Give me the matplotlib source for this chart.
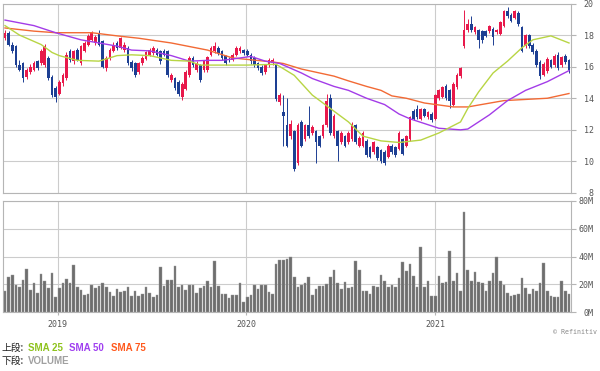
import numpy as np
import pandas as pd
import matplotlib
matplotlib.use("Agg")
import matplotlib.pyplot as plt
import matplotlib.dates as mdates

# weekly bars, 2018-09-21 .. 2021-09-10
dates = pd.date_range("2018-09-21", periods=157, freq="7D")

opens = [17.82, 18.14, 17.40, 17.29, 16.11, 16.22, 15.36, 15.68, 15.79, 16.33,
         16.22, 16.11, 16.54, 15.36, 14.62, 14.30, 14.94, 15.26, 16.97, 16.33,
         17.07, 16.22, 16.97, 17.40, 17.71, 17.50, 18.14, 17.60, 15.90, 16.54,
         16.97, 17.50, 17.18, 17.07, 17.18, 16.30, 16.22, 15.68, 16.22, 16.50,
         16.75, 16.86, 17.07, 16.97, 16.97, 16.97, 15.15, 15.26, 15.04, 14.08,
         14.60, 15.47, 16.54, 15.79, 16.11, 15.79, 15.79, 16.75, 16.97, 17.18,
         16.97, 16.65, 16.50, 16.45, 16.75, 16.97, 17.07, 17.00, 16.75, 16.54,
         16.22, 16.00, 15.68, 16.11, 16.22, 16.11, 13.76, 13.10, 12.30, 11.60,
         11.90, 9.90, 12.50, 11.40, 12.30, 11.80, 11.90, 11.60, 11.60, 12.30,
         14.00, 11.60, 11.90, 11.20, 11.60, 11.20, 11.40, 12.30, 11.00, 11.00,
         11.30, 10.90, 10.60, 10.90, 10.70, 10.60, 10.30, 11.00, 10.90, 10.80,
         11.40, 11.00, 11.40, 13.20, 13.30, 12.70, 13.30, 12.80, 13.00, 12.70,
         14.00, 14.10, 14.80, 14.50, 13.60, 14.70, 15.40, 17.30, 18.30, 18.70,
         18.20, 18.30, 18.25, 18.25, 18.25, 18.40, 18.20, 18.10, 18.60, 19.50,
         19.30, 19.10, 19.40, 18.50, 17.30, 18.00, 17.40, 17.00, 16.30, 15.50,
         15.70, 16.40, 16.10, 16.75, 16.10, 16.70, 16.40]
closes = [18.14, 17.40, 16.97, 16.11, 15.79, 15.26, 15.79, 16.00, 16.22, 15.90,
          16.97, 17.29, 15.26, 14.19, 14.08, 15.04, 15.47, 16.75, 16.43, 16.97,
          16.43, 17.29, 17.50, 17.93, 18.14, 17.90, 17.40, 16.00, 16.54, 17.07,
          17.40, 17.18, 17.82, 17.40, 16.22, 15.90, 15.47, 16.22, 16.54, 16.90,
          17.07, 17.18, 16.75, 16.33, 16.75, 15.47, 15.47, 14.62, 14.30, 14.90,
          15.68, 16.54, 16.11, 16.22, 15.15, 16.33, 16.60, 17.18, 17.29, 16.86,
          16.54, 16.22, 16.40, 16.75, 17.18, 17.18, 16.86, 16.75, 16.33, 16.11,
          15.90, 15.60, 16.11, 16.43, 16.43, 13.97, 14.19, 12.90, 11.00, 12.40,
          9.50, 12.30, 11.00, 12.30, 11.60, 12.20, 11.20, 11.00, 12.30, 13.80,
          11.80, 12.90, 11.00, 11.80, 11.00, 11.80, 12.40, 11.20, 11.50, 11.80,
          10.40, 10.30, 11.20, 10.20, 10.00, 9.90, 11.00, 10.60, 10.40, 11.80,
          10.50, 11.60, 12.80, 12.70, 12.80, 13.30, 12.90, 13.10, 12.60, 14.20,
          14.50, 14.70, 14.00, 13.80, 14.90, 15.50, 15.90, 18.30, 18.70, 18.30,
          18.50, 17.70, 17.70, 17.95, 18.55, 17.90, 18.30, 18.80, 19.50, 19.20,
          18.90, 19.50, 18.70, 17.00, 18.00, 17.30, 16.90, 16.10, 15.40, 16.20,
          16.50, 16.00, 16.70, 15.90, 16.60, 16.30, 15.80]
highs = [18.35, 18.25, 17.55, 17.40, 16.40, 16.30, 15.90, 16.15, 16.35, 16.45,
         17.10, 17.45, 16.70, 15.45, 14.75, 15.15, 15.60, 16.90, 17.10, 17.05,
         17.20, 17.40, 17.65, 18.05, 18.25, 18.00, 18.35, 17.70, 16.65, 17.20,
         17.55, 17.60, 17.90, 17.55, 17.30, 16.40, 16.30, 16.30, 16.65, 17.00,
         17.20, 17.30, 17.20, 17.05, 17.10, 17.05, 15.60, 15.35, 15.15, 15.00,
         15.80, 16.65, 16.65, 16.35, 16.20, 16.45, 16.70, 17.30, 17.55, 17.30,
         17.05, 16.75, 16.60, 16.85, 17.30, 17.30, 17.15, 17.10, 16.85, 16.65,
         16.30, 16.10, 16.20, 16.55, 16.55, 16.20, 14.35, 14.20, 14.00, 12.60,
         12.00, 12.45, 12.60, 12.40, 13.50, 12.30, 12.00, 11.70, 12.40, 14.30,
         14.30, 13.00, 12.00, 11.90, 11.70, 11.90, 12.50, 12.40, 11.60, 11.90,
         11.40, 11.00, 11.30, 11.00, 10.80, 10.70, 11.10, 11.10, 11.00, 11.90,
         11.50, 11.70, 12.90, 13.30, 13.60, 13.40, 13.40, 13.20, 13.10, 14.30,
         14.60, 14.80, 14.90, 14.60, 15.00, 15.60, 16.00, 19.60, 19.00, 19.20,
         18.60, 18.40, 18.35, 18.35, 18.65, 18.50, 18.40, 18.90, 19.60, 19.80,
         19.40, 19.60, 19.50, 18.60, 18.10, 18.10, 17.50, 17.10, 16.40, 16.30,
         16.60, 16.50, 16.80, 16.90, 16.70, 16.80, 16.50]
lows = [17.70, 17.30, 16.85, 16.00, 15.70, 15.00, 15.20, 15.55, 15.70, 15.80,
        16.10, 16.00, 15.15, 14.05, 13.76, 14.20, 14.80, 15.15, 16.30, 16.20,
        16.35, 16.10, 16.90, 17.30, 17.60, 17.40, 17.30, 15.90, 15.75, 16.45,
        16.90, 17.05, 17.10, 16.95, 16.10, 15.75, 15.35, 15.55, 16.10, 16.40,
        16.65, 16.75, 16.65, 16.20, 16.65, 15.35, 15.00, 14.50, 14.15, 13.90,
        14.50, 15.35, 16.00, 15.65, 15.05, 15.65, 15.65, 16.65, 16.85, 16.75,
        16.45, 16.10, 16.30, 16.35, 16.65, 16.85, 16.75, 16.65, 16.20, 16.00,
        15.80, 15.45, 15.55, 16.00, 16.10, 13.85, 13.60, 11.00, 10.90, 11.40,
        9.40, 9.80, 10.90, 11.30, 11.50, 11.70, 9.90, 10.90, 11.50, 12.20,
        11.70, 11.50, 10.00, 11.10, 10.90, 11.10, 11.30, 11.10, 10.90, 10.90,
        10.30, 10.20, 10.50, 10.10, 9.90, 9.75, 10.20, 10.50, 10.30, 10.70,
        10.40, 10.90, 11.30, 12.60, 12.70, 12.60, 12.80, 12.70, 12.50, 12.60,
        13.90, 14.00, 13.90, 13.40, 13.50, 14.60, 15.30, 17.20, 18.20, 18.20,
        18.10, 17.20, 17.50, 17.85, 18.15, 17.40, 18.10, 18.00, 18.50, 19.10,
        18.80, 19.00, 18.60, 16.90, 17.20, 17.20, 16.80, 16.00, 15.20, 15.40,
        15.60, 15.90, 16.00, 15.80, 16.00, 16.20, 15.60]
# volume in millions
volume = [15.4, 25.0, 26.5, 19.3, 18.0, 23.0, 31.3, 16.0, 20.7, 13.7,
          27.5, 22.0, 17.3, 28.0, 11.0, 17.3, 20.7, 24.0, 20.7, 34.0,
          17.8, 16.0, 12.5, 13.0, 19.3, 17.3, 18.8, 20.7, 18.3, 14.5,
          11.8, 16.6, 14.2, 15.4, 18.3, 11.8, 15.4, 11.8, 13.0, 18.3,
          13.7, 10.6, 12.5, 32.3, 18.6, 23.0, 23.0, 33.5, 17.8, 19.8,
          16.0, 19.8, 19.8, 14.0, 17.3, 18.8, 22.0, 17.8, 37.0, 18.8,
          13.0, 13.0, 10.0, 12.5, 12.5, 20.7, 7.0, 10.6, 12.5, 19.8,
          16.6, 19.8, 19.8, 14.2, 13.0, 34.7, 37.8, 37.3, 38.0, 40.0,
          25.0, 17.8, 19.8, 21.2, 25.5, 12.5, 16.6, 19.0, 18.6, 20.2,
          25.0, 30.6, 20.7, 16.6, 21.4, 17.3, 17.8, 36.6, 30.6, 15.4,
          15.4, 13.0, 19.0, 18.0, 27.0, 22.7, 17.8, 19.3, 18.0, 24.6,
          36.0, 29.4, 34.7, 25.8, 18.0, 46.7, 17.8, 22.7, 11.3, 11.6,
          25.8, 20.7, 21.4, 43.9, 22.0, 28.0, 15.0, 72.3, 30.0, 22.7,
          28.7, 21.4, 20.7, 15.4, 22.0, 28.0, 40.0, 22.0, 19.3, 13.7,
          11.3, 12.5, 13.0, 24.6, 17.3, 13.0, 16.6, 15.4, 20.7, 35.0,
          15.0, 11.8, 11.0, 10.6, 22.0, 15.0, 13.0]

# moving averages at these bar numbers (0-based)
sma25_wk = [0, 4, 10, 13, 15, 20, 26, 31, 35, 40, 46, 51, 54, 67, 75, 80, 85,
            90, 95, 99, 104, 109, 115, 120, 126, 128, 131, 135, 139, 143, 146, 151, 156]
sma25 = [18.6, 18.0, 17.4, 16.9, 16.7, 16.4, 16.35, 16.7, 16.75, 16.7, 16.4, 16.35,
         16.1, 16.1, 16.15, 15.45, 14.2, 13.35, 12.5, 11.6, 11.3, 11.2, 11.35, 11.8,
         12.5, 13.35, 14.4, 15.6, 16.35, 17.2, 17.7, 17.95, 17.5]
sma50_wk = [0, 8, 14, 21, 26, 31, 35, 40, 46, 51, 56, 60, 65, 68, 72, 76, 82, 85,
            91, 95, 100, 105, 109, 112, 116, 120, 126, 128, 134, 139, 144, 150, 156]
sma50 = [18.95, 18.6, 18.15, 17.7, 17.5, 17.3, 17.05, 17.0, 16.7, 16.35, 16.4, 16.4,
         16.55, 16.65, 16.35, 16.2, 15.6, 15.25, 14.75, 14.5, 14.0, 13.6, 13.0, 12.7,
         12.4, 12.1, 12.0, 12.05, 12.95, 13.85, 14.5, 15.05, 15.75]
sma75_wk = [0, 8, 14, 24, 31, 37, 46, 56, 63, 74, 77, 82, 85, 91, 95, 100, 104,
            107, 111, 116, 124, 128, 138, 150, 156]
sma75 = [18.45, 18.25, 18.15, 18.15, 17.95, 17.8, 17.5, 17.05, 16.55, 16.3, 16.2,
         15.85, 15.7, 15.4, 15.1, 14.75, 14.5, 14.15, 14.0, 13.7, 13.45, 13.45,
         13.85, 14.0, 14.3]

UP = "#e8194b"
DOWN = "#1d3f93"
GRID = "#cccccc"
TICK = "#555555"

x = mdates.date2num(dates)
o = np.array(opens)
c = np.array(closes)
cols = np.where(c >= o, UP, DOWN)

fig = plt.figure(figsize=(6, 3.71), dpi=100)
ax = fig.add_axes([3 / 600, 1 - 193 / 371, 568 / 600, 189.5 / 371])
axv = fig.add_axes([3 / 600, 1 - 312 / 371, 568 / 600, 111 / 371], sharex=ax)

# price panel
ax.vlines(x, lows, highs, colors=cols, linewidth=0.7, zorder=3)
ax.bar(x, np.abs(c - o), bottom=np.minimum(o, c), width=5.2, color=cols,
       linewidth=0, zorder=3)
ax.plot(mdates.date2num(dates[sma75_wk]), sma75, color="#f26a35", lw=1.0, zorder=4)
ax.plot(mdates.date2num(dates[sma50_wk]), sma50, color="#a33ce8", lw=1.0, zorder=4)
ax.plot(mdates.date2num(dates[sma25_wk]), sma25, color="#b8d544", lw=1.0, zorder=4)
ax.set_ylim(8, 20)
ax.set_yticks(range(8, 21, 2))

# volume panel
axv.bar(x, volume, width=5.0, color="#6e6e6e", edgecolor="#9a9a9a",
        linewidth=0.3, zorder=3)
axv.set_ylim(0, 80)
axv.set_yticks(range(0, 81, 20))
axv.set_yticklabels([f"{v}M" for v in range(0, 81, 20)])

ax.set_xlim(x[0] - 3.9, x[-1] + 3.9)
for a in (ax, axv):
    a.xaxis.set_major_locator(mdates.YearLocator())
    a.xaxis.set_major_formatter(mdates.DateFormatter("%Y"))
    a.grid(True, color=GRID, linewidth=0.8, zorder=0)
    a.set_axisbelow(True)
    for s in a.spines.values():
        s.set_color("#b5b5b5")
        s.set_linewidth(0.8)
    a.yaxis.tick_right()
    a.tick_params(axis="y", length=3.6, width=0.8, color="#b5b5b5", pad=12.9,
                  labelsize=6, labelcolor=TICK)
    a.tick_params(axis="x", length=2.5, width=0.8, color="#b5b5b5", pad=3,
                  labelsize=6, labelcolor=TICK)
    for lab in a.get_yticklabels():
        lab.set_horizontalalignment("right")
        lab.set_family("DejaVu Sans Mono")
    for lab in a.get_xticklabels():
        lab.set_family("DejaVu Sans Mono")
ax.tick_params(axis="x", labelbottom=False, length=0)

fig.text(597 / 600, 1 - 332 / 371, "© Refinitiv", ha="right", va="center",
         fontsize=4.8, color="#888888", family="DejaVu Sans Mono")

cjk = ["Noto Sans CJK JP", "DejaVu Sans"]
fig.text(2 / 600, 1 - 348 / 371, "上段:", fontsize=7, family=cjk, va="center", color="#222222")
fig.text(2 / 600, 1 - 361 / 371, "下段:", fontsize=7, family=cjk, va="center", color="#222222")
fig.text(28 / 600, 1 - 348 / 371, "SMA 25", fontsize=7, weight="bold", color="#8fc31f",
         family="Liberation Sans", va="center")
fig.text(69 / 600, 1 - 348 / 371, "SMA 50", fontsize=7, weight="bold", color="#a040f0",
         family="Liberation Sans", va="center")
fig.text(111 / 600, 1 - 348 / 371, "SMA 75", fontsize=7, weight="bold", color="#ff5a1e",
         family="Liberation Sans", va="center")
fig.text(28 / 600, 1 - 361 / 371, "VOLUME", fontsize=7, weight="bold", color="#a0a0a0",
         family="Liberation Sans", va="center")

fig.savefig("out.png", dpi=100)
